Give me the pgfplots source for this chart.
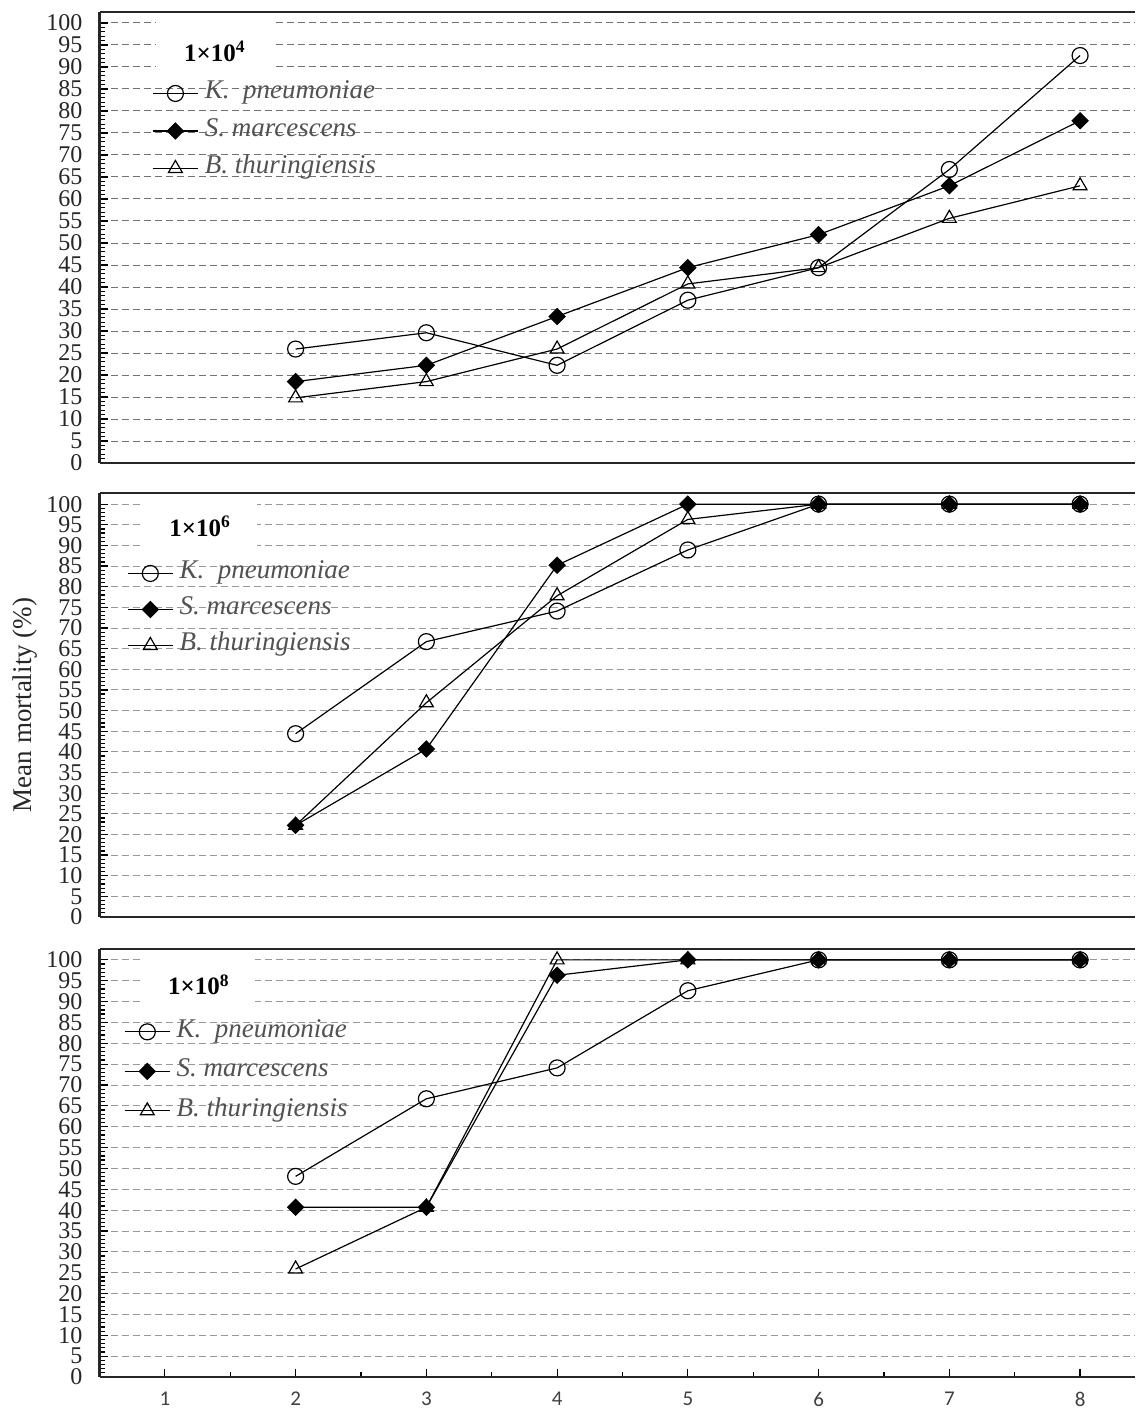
\documentclass[border=0pt]{standalone}
\usepackage{fontspec}
\setmainfont{Liberation Serif}
\newfontfamily\carlito{Carlito}
\usepackage{pgfplots}
\pgfplotsset{compat=1.18}

\tikzset{ttl/.style={fill=white, inner sep=0pt, font=\bfseries\fontsize{12.5}{13}\selectfont}}
\pgfplotsset{
  panel/.style={
    scale only axis, width=517.75pt,
    xmin=0.5, xmax=8.42, ymin=0,
    axis x line*=box, axis y line*=left,
    axis line style={-, line width=1.1pt, black!85},
    ytick={0,5,...,100}, minor y tick num=4,
    ymajorgrids,
    major grid style={dashed, dash pattern=on 3.5pt off 2pt, line width=0.5pt, black!40},
    major tick length=4pt, minor tick length=2.6pt,
    every tick/.style={black, line width=0.6pt},
    /pgf/number format/assume math mode=true,
    yticklabel style={font=\fontsize{12}{12}\selectfont, text=black!85, xshift=-5pt},
    xtick=\empty,
    clip=false,
    legend cell align=left,
    legend image code/.code={\draw[mark repeat=2,mark phase=2] plot coordinates {(0cm,0cm) (0.4cm,0cm) (0.8cm,0cm)};},
    legend style={draw=none, fill=none, inner sep=0pt, outer sep=0pt,
      font=\itshape\fontsize{13.5}{14}\selectfont, text=black!68,
      nodes={inner sep=0pt, text height=8.5pt, text depth=3pt},
      /tikz/every odd column/.append style={column sep=3pt}},
  },
  kp/.style={black, line width=0.6pt, mark=o, mark size=4pt, mark options={solid, fill=white, line width=0.6pt}},
  sm/.style={black, line width=0.6pt, mark=square*, mark size=2.8pt, mark options={solid, fill=black, rotate=45}},
  bt/.style={black, line width=0.6pt, mark=triangle, mark size=4pt, mark options={solid, fill=white, line width=0.6pt}},
}

\begin{document}
\begin{tikzpicture}
\useasboundingbox (0,0) rectangle (567.5pt,-706pt);

% Panel 1: 1x10^4
\begin{axis}[panel, at={(49.75pt,-6pt)}, anchor=north west,
  height=225.5pt, ymax=102.5,
  major grid style={dashed, dash pattern=on 3.5pt off 2pt, line width=0.5pt, black!55},
  legend style={at={(axis cs:0.902,86.6)}, anchor=north west, row sep=7.25pt}]
\addplot[kp] coordinates {(2,25.9) (3,29.6) (4,22.2) (5,37.0) (6,44.4) (7,66.7) (8,92.6)};
\addlegendentry{K.\ \ pneumoniae}
\addplot[sm] coordinates {(2,18.5) (3,22.2) (4,33.3) (5,44.4) (6,51.9) (7,63.0) (8,77.8)};
\addlegendentry{S. marcescens}
\addplot[bt] coordinates {(2,14.8) (3,18.5) (4,25.9) (5,40.7) (6,44.4) (7,55.6) (8,63.0)};
\addlegendentry{B. thuringiensis}
\node[ttl, minimum width=58.5pt, minimum height=31pt] at (axis cs:1.383,93.6) {1×10\textsuperscript{4}};
\end{axis}

% Panel 2: 1x10^6
\begin{axis}[panel, at={(49.75pt,-246.5pt)}, anchor=north west,
  height=212pt, ymax=102.7,
  legend style={at={(axis cs:0.710,86.0)}, anchor=north west, row sep=6.5pt}]
\addplot[kp] coordinates {(2,44.4) (3,66.7) (4,74.1) (5,88.9) (6,100) (7,100) (8,100)};
\addlegendentry{K.\ \ pneumoniae}
\addplot[sm] coordinates {(2,22.2) (3,40.7) (4,85.2) (5,100) (6,100) (7,100) (8,100)};
\addlegendentry{S. marcescens}
\addplot[bt] coordinates {(2,22.2) (3,51.9) (4,77.8) (5,96.3) (6,100) (7,100) (8,100)};
\addlegendentry{B. thuringiensis}
\node[ttl, minimum width=57pt, minimum height=29pt] at (axis cs:1.269,94.7) {1×10\textsuperscript{6}};
\end{axis}

% Panel 3: 1x10^8
\begin{axis}[panel, at={(49.75pt,-474.5pt)}, anchor=north west,
  height=214pt, ymax=102.6,
  xtick={1,...,8}, minor xtick={1.5,2.5,...,8},
  xtick pos=bottom,
  xticklabel style={font=\carlito\fontsize{10.5}{11}\selectfont, text=black!75, yshift=-4pt},
  legend style={at={(axis cs:0.687,85.5)}, anchor=north west, row sep=8.25pt}]
\addplot[kp] coordinates {(2,48.1) (3,66.7) (4,74.1) (5,92.6) (6,100) (7,100) (8,100)};
\addlegendentry{K.\ \ pneumoniae}
\addplot[sm] coordinates {(2,40.7) (3,40.7) (4,96.3) (5,100) (6,100) (7,100) (8,100)};
\addlegendentry{S. marcescens}
\addplot[bt] coordinates {(2,25.9) (3,40.7) (4,100) (5,100) (6,100) (7,100) (8,100)};
\addlegendentry{B. thuringiensis}
\node[ttl, minimum width=56.5pt, minimum height=28pt] at (axis cs:1.261,94.0) {1×10\textsuperscript{8}};
\end{axis}

\node[rotate=90, font=\fontsize{13.5}{14}\selectfont, text=black!85] at (12.5pt,-352.5pt) {Mean mortality (\%)};
\end{tikzpicture}
\end{document}
